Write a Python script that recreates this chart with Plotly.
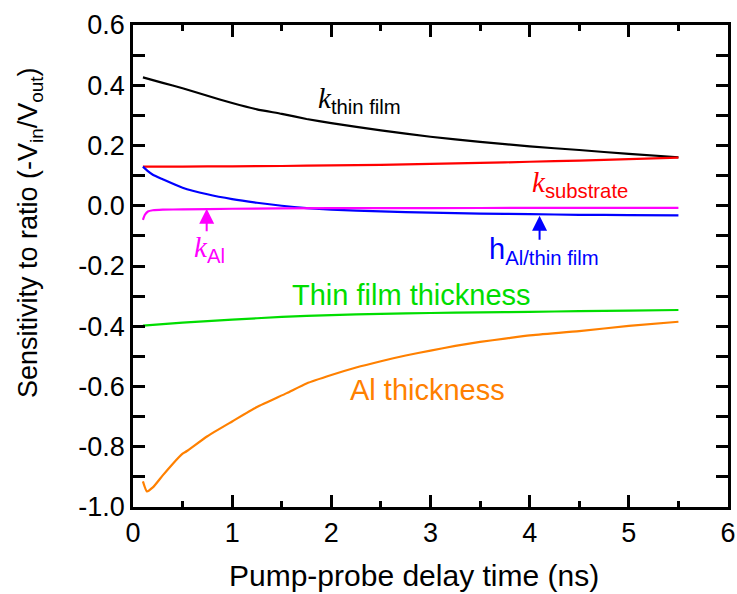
import plotly.graph_objects as go

# ---- data ----
x_thin = [0.1, 0.3, 0.5, 0.75, 1.0, 1.25, 1.5, 1.75, 2.0, 2.5, 3.0, 3.5, 4.0, 4.5, 5.0, 5.5]
k_thin_film = [0.426, 0.408, 0.39, 0.365, 0.341, 0.32, 0.305, 0.288, 0.274, 0.25, 0.229, 0.212, 0.197, 0.185, 0.172, 0.161]

x_sub = [0.1, 0.5, 1.0, 1.5, 2.0, 2.5, 3.0, 3.5, 4.0, 4.5, 5.0, 5.5]
k_substrate = [0.130, 0.130, 0.131, 0.132, 0.134, 0.136, 0.139, 0.142, 0.146, 0.150, 0.155, 0.160]

x_h = [0.1, 0.15, 0.2, 0.3, 0.5, 0.75, 1.0, 1.25, 1.5, 1.75, 2.0, 2.5, 3.0, 3.5, 4.0, 4.5, 5.0, 5.5]
h_interface = [0.130, 0.115, 0.103, 0.088, 0.060, 0.038, 0.022, 0.010, 0.000, -0.008, -0.013, -0.019,
               -0.023, -0.026, -0.028, -0.030, -0.031, -0.032]

x_kal = [0.1, 0.12, 0.15, 0.2, 0.3, 0.5, 1.0, 2.0, 3.0, 4.0, 5.0, 5.5]
k_al = [-0.047, -0.030, -0.019, -0.015, -0.013, -0.012, -0.010, -0.008, -0.008, -0.007, -0.007, -0.007]

x_tf = [0.1, 0.5, 1.0, 1.5, 2.0, 2.5, 3.0, 3.5, 4.0, 4.5, 5.0, 5.5]
thin_film_thickness = [-0.398, -0.388, -0.378, -0.369, -0.363, -0.359, -0.356, -0.354, -0.352, -0.350, -0.348, -0.346]

x_al = [0.1, 0.14, 0.2, 0.3, 0.4, 0.5, 0.54, 0.75, 1.0, 1.25, 1.55, 1.75, 2.0, 2.25, 2.5, 2.75,
        3.0, 3.25, 3.5, 3.75, 4.0, 4.5, 5.0, 5.5]
al_thickness = [-0.915, -0.948, -0.935, -0.895, -0.857, -0.823, -0.815, -0.765, -0.716, -0.668, -0.622,
                -0.59, -0.562, -0.537, -0.516, -0.497, -0.481, -0.465, -0.452, -0.441, -0.43, -0.416,
                -0.399, -0.385]

x_ticks = [0, 1, 2, 3, 4, 5, 6]
y_ticks = [0.6, 0.4, 0.2, 0.0, -0.2, -0.4, -0.6, -0.8, -1.0]
y_tick_text = ["0.6", "0.4", "0.2", "0.0", "-0.2", "-0.4", "-0.6", "-0.8", "-1.0"]

FONT = "Liberation Sans, Arial, sans-serif"
SERIF = "Liberation Serif"

fig = go.Figure()
series = [
    (x_thin, k_thin_film, "black"),
    (x_sub, k_substrate, "#ff0000"),
    (x_h, h_interface, "#0000ff"),
    (x_kal, k_al, "#ff00ff"),
    (x_tf, thin_film_thickness, "#00dd00"),
    (x_al, al_thickness, "#ff8000"),
]
for xs, ys, c in series:
    fig.add_trace(go.Scatter(x=xs, y=ys, mode="lines", line=dict(color=c, width=2.2, shape="spline", smoothing=0.5),
                             showlegend=False, hoverinfo="skip"))

def kl(sub):
    return f"<span style='font-family:{SERIF}'><i>k</i></span><sub>{sub}</sub>"

ann = [
    dict(x=1.845, y=0.352, text=kl("thin film"), color="black", xanchor="left"),
    dict(x=4.0, y=0.072, text=kl("substrate"), color="#ff0000", xanchor="left"),
    dict(x=0.595, y=-0.143, text=kl("Al"), color="#ff00ff", xanchor="left"),
    dict(x=3.57, y=-0.150, text="h<sub>Al/thin film</sub>", color="#0000ff", xanchor="left"),
    dict(x=2.81, y=-0.295, text="Thin film thickness", color="#00dd00", xanchor="center"),
    dict(x=2.97, y=-0.611, text="Al thickness", color="#ff8000", xanchor="center"),
]
for a in ann:
    fig.add_annotation(x=a["x"], y=a["y"], text=a["text"], showarrow=False, xanchor=a["xanchor"],
                       yanchor="middle", font=dict(family=FONT, size=29, color=a["color"]))

# arrows
fig.add_annotation(x=0.743, y=-0.010, ax=0.743, ay=-0.09, xref="x", yref="y", axref="x", ayref="y",
                   text="", showarrow=True, arrowhead=2, arrowsize=1.5, arrowwidth=2, arrowcolor="#ff00ff")
fig.add_annotation(x=4.10, y=-0.033, ax=4.10, ay=-0.118, xref="x", yref="y", axref="x", ayref="y",
                   text="", showarrow=True, arrowhead=2, arrowsize=1.5, arrowwidth=2, arrowcolor="#0000ff")

# axis titles as annotations
fig.add_annotation(x=(414 - 133) / 595, y=(507 - 575) / 482, xref="paper", yref="paper",
                   text="Pump-probe delay time (ns)",
                   showarrow=False, xanchor="center", yanchor="middle",
                   font=dict(family=FONT, size=30, color="black"))
fig.add_annotation(x=(30 - 133) / 595, y=(507 - 233) / 482, xref="paper", yref="paper",
                   text="Sensitivity to ratio (-V<sub>in</sub>/V<sub>out</sub>)", textangle=-90,
                   showarrow=False, xanchor="center", yanchor="middle",
                   font=dict(family=FONT, size=27, color="black"))

axis_common = dict(showline=True, linecolor="black", linewidth=2.5, mirror="ticks", ticks="inside",
                   tickcolor="black", tickwidth=2.5, showgrid=False, zeroline=False, automargin=False,
                   tickfont=dict(family=FONT, size=27, color="black"))

fig.update_xaxes(range=[0, 6], tickvals=x_ticks, ticklen=12,
                 minor=dict(dtick=0.5, ticklen=6, ticks="inside", tickcolor="black", tickwidth=2.5),
                 **axis_common)
fig.update_yaxes(range=[-1.0, 0.6], tickvals=y_ticks, ticktext=y_tick_text, ticklen=12,
                 minor=dict(dtick=0.1, ticklen=12, ticks="inside", tickcolor="black", tickwidth=2.5),
                 **axis_common)

fig.update_layout(width=737, height=594, margin=dict(l=133, r=9, t=25, b=87),
                  plot_bgcolor="white", paper_bgcolor="white")

fig.write_html("out.html")
